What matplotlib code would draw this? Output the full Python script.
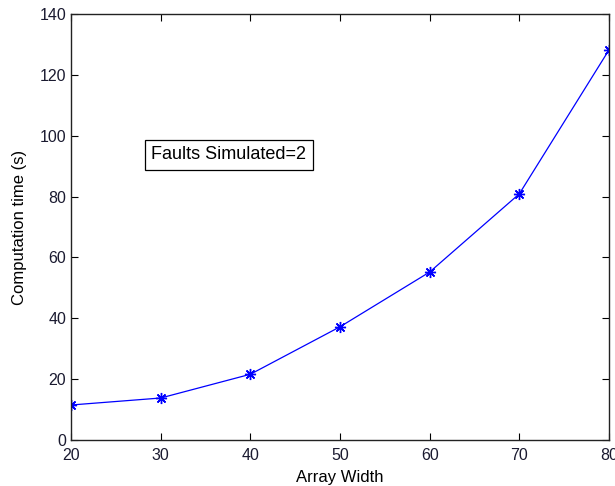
import matplotlib
matplotlib.use("Agg")
import matplotlib.pyplot as plt

plt.rcParams['font.family'] = ['Liberation Sans', 'DejaVu Sans']

array_width = [20, 30, 40, 50, 60, 70, 80]
comp_time = [11.5, 13.8, 21.6, 37.2, 55.2, 80.9, 128.2]
x_ticks = [20, 30, 40, 50, 60, 70, 80]
y_ticks = [0, 20, 40, 60, 80, 100, 120, 140]

fig = plt.figure(figsize=(6.15, 4.86), dpi=100)
ax = fig.add_axes([71/615, 1-440/486, 538/615, 426/486])
ax.plot(array_width, comp_time, color='#0000ff', lw=0.9, marker=(8, 2, 0), ms=8,
        markeredgewidth=1.0)
ax.set_xlim(20, 80)
ax.set_ylim(0, 140)
ax.set_xticks(x_ticks)
ax.set_yticks(y_ticks)
ax.tick_params(direction='in', top=True, right=True, labelsize=11.5, length=5,
               colors='black', labelcolor='#1a1a30')
ax.tick_params(axis='x', pad=6)
for s in ax.spines.values():
    s.set_linewidth(1.0)
    s.set_color('#222222')
ax.set_xlabel('Array Width', fontsize=12, labelpad=5)
ax.set_ylabel('Computation time (s)', fontsize=12, labelpad=9)
ax.text(37.6, 93.7, 'Faults Simulated=2', fontsize=13, ha='center', va='center',
        bbox=dict(boxstyle='square,pad=0.35', fc='white', ec='black', lw=0.9))
fig.savefig('out.png', dpi=100)
